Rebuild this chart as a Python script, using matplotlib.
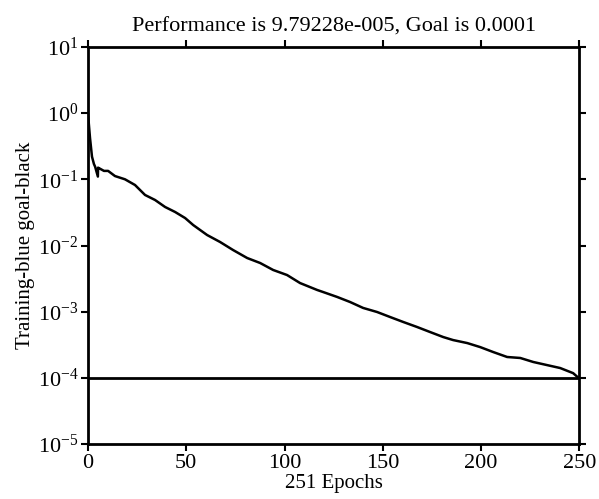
import matplotlib
matplotlib.use("Agg")
import matplotlib.pyplot as plt
from matplotlib.ticker import LogLocator, NullLocator, FixedLocator

# Training performance (epoch, mse)
epochs = [0, 1, 2, 3, 3.6, 5, 5.1, 6, 8.1, 10.2, 13.7, 18.8, 23.9, 29, 34.1,
          39.2, 44.3, 49.4, 53.5, 60.6, 67.2, 73.8, 81, 87.6, 94.2, 101.3,
          107.9, 116.6, 119.7, 126.8, 133.4, 140, 147.1, 153.8, 160.4, 167.5,
          174.1, 180.8, 185.8, 193, 199.6, 206.2, 213.3, 220, 226.6, 233.7,
          240.3, 246.9, 250]
perf = [0.95, 0.42, 0.22, 0.17, 0.155, 0.11, 0.15, 0.145, 0.134, 0.134,
        0.112, 0.1, 0.082, 0.058, 0.0487, 0.0382, 0.0321, 0.026, 0.0204,
        0.0144, 0.0113, 0.00855, 0.00647, 0.00544, 0.00427, 0.00358, 0.00271,
        0.00213, 0.00198, 0.00167, 0.0014, 0.00114, 0.00099, 0.00083, 0.0007,
        0.000587, 0.000493, 0.000414, 0.000373, 0.000336, 0.000292, 0.000246,
        0.000207, 0.0002, 0.000174, 0.000156, 0.000141, 0.000118, 9.79228e-5]
goal = 1e-4
x_ticks = [0, 50, 100, 150, 200, 250]

plt.rcParams.update({
    'font.family': 'Liberation Serif',
    'mathtext.fontset': 'custom',
    'mathtext.rm': 'Liberation Serif',
    'mathtext.it': 'Liberation Serif',
    'font.size': 15,
})

fig = plt.figure(figsize=(5.99, 4.99), dpi=100)
ax = fig.add_axes([0.147, 0.110, 0.820, 0.796])

ax.semilogy(epochs, perf, color='black', linewidth=1.8)
ax.axhline(goal, color='black', linewidth=2)

ax.set_xlim(0, 250)
ax.set_ylim(1e-5, 1e1)
ax.xaxis.set_major_locator(FixedLocator(x_ticks))
ax.yaxis.set_major_locator(LogLocator(base=10, numticks=10))
ax.yaxis.set_minor_locator(NullLocator())
ax.xaxis.get_offset_text().set_visible(False)
ax.yaxis.get_offset_text().set_visible(False)

for s in ax.spines.values():
    s.set_linewidth(2)
ax.tick_params(direction='out', length=5, width=1.5, top=True, right=True,
               labelsize=16, pad=2)

ax.set_title("Performance is 9.79228e-005, Goal is 0.0001", fontsize=16, pad=11)
ax.set_xlabel("251 Epochs", fontsize=15, labelpad=1)
ax.set_ylabel("Training-blue goal-black", fontsize=15, labelpad=2)

fig.savefig("out.png", dpi=100)
